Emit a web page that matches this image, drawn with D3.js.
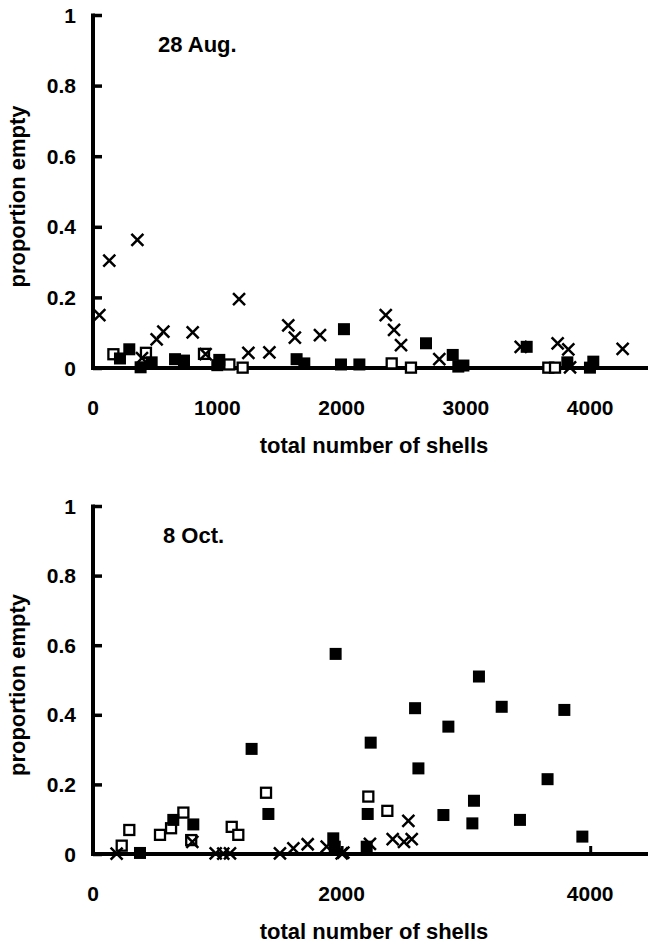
<!DOCTYPE html>
<html lang="en">
<head>
    <meta charset="UTF-8">
    <title>proportion empty</title>
    <script src="https://d3js.org/d3.v7.min.js"></script>
    <style>
        body { margin: 0; background: #fff; }
        svg text {
            font-family: "Liberation Sans", Arial, sans-serif;
            font-weight: bold;
            fill: #000;
        }
        .axis line, .axis path { stroke: #000; }
    </style>
</head>
<body>
<div id="chart"></div>

<script type="text/javascript">
    // 28 Aug. panel: [total number of shells, proportion empty]
    var augFilled = [[217, 0.027], [292, 0.053], [383, 0.002], [472, 0.016], [660, 0.025], [732, 0.021],
        [1000, 0.008], [1016, 0.023], [1638, 0.025], [1700, 0.013], [1995, 0.010], [2019, 0.110],
        [2143, 0.010], [2679, 0.070], [2894, 0.037], [2939, 0.004], [2980, 0.007], [3489, 0.060],
        [3816, 0.016], [3998, 0.001], [4025, 0.018]];
    var augOpen = [[164, 0.039], [426, 0.043], [893, 0.040], [1097, 0.010], [1204, 0.001], [2403, 0.013],
        [2558, 0.001], [3663, 0.001], [3717, 0.001]];
    var augCross = [[51, 0.150], [131, 0.304], [357, 0.363], [394, 0.028], [512, 0.081], [566, 0.103],
        [802, 0.101], [906, 0.039], [1175, 0.195], [1250, 0.043], [1419, 0.044], [1571, 0.121],
        [1624, 0.086], [1826, 0.093], [2355, 0.150], [2422, 0.108], [2478, 0.065], [2786, 0.025],
        [3441, 0.060], [3738, 0.070], [3824, 0.053], [3838, 0.002], [4261, 0.054]];

    // 8 Oct. panel
    var octFilled = [[378, 0.003], [646, 0.098], [807, 0.085], [1276, 0.302], [1411, 0.115], [1933, 0.045],
        [1945, 0.021], [1952, 0.575], [2202, 0.021], [2210, 0.115], [2234, 0.320], [2591, 0.419],
        [2618, 0.246], [2819, 0.112], [2859, 0.366], [3052, 0.088], [3065, 0.153], [3105, 0.510],
        [3288, 0.423], [3435, 0.098], [3657, 0.215], [3792, 0.414], [3937, 0.050]];
    var octOpen = [[231, 0.024], [292, 0.069], [539, 0.055], [628, 0.074], [727, 0.119], [790, 0.040],
        [1116, 0.078], [1169, 0.055], [1392, 0.176], [2215, 0.165], [2368, 0.124]];
    var octCross = [[190, 0.001], [799, 0.035], [987, 0.002], [1048, 0.001], [1102, 0.002], [1504, 0.002],
        [1612, 0.016], [1727, 0.028], [1880, 0.021], [2001, 0.002], [2014, 0.004], [2228, 0.029],
        [2411, 0.043], [2502, 0.035], [2537, 0.095], [2564, 0.043]];

    var yTicks = [0, 0.2, 0.4, 0.6, 0.8, 1];
    var augXTicks = [0, 1000, 2000, 3000, 4000];
    var octXTicks = [0, 2000, 4000];

    var width = 648, height = 945;

    var svg = d3.select('div#chart').append('svg')
        .attr('width', width)
        .attr('height', height);

    var xScale = d3.scaleLinear()
        .domain([0, 4500])
        .range([93, 93 + 4500 * 0.1243]);

    function panel(title, top, bottom, xTicks, filled, open, cross, titleX) {
        var yScale = d3.scaleLinear().domain([0, 1]).range([bottom, top]);
        var g = svg.append('g');

        // y axis with ticks pointing inward
        var yAxis = d3.axisRight(yScale).tickValues(yTicks).tickSize(9).tickFormat('');
        g.append('g').attr('class', 'axis')
            .attr('transform', 'translate(' + xScale(0) + ',0)')
            .call(yAxis)
            .call(function (a) {
                a.select('.domain').remove();
                a.selectAll('line').attr('stroke-width', 3.5);
            });
        g.append('line')
            .attr('x1', xScale(0)).attr('x2', xScale(0))
            .attr('y1', yScale(1) - 1.5).attr('y2', yScale(0) + 2)
            .attr('stroke', '#000').attr('stroke-width', 4);

        g.selectAll('text.ylab').data(yTicks).enter().append('text')
            .attr('class', 'ylab')
            .attr('x', 76)
            .attr('y', function (d) { return yScale(d) + 7.5; })
            .attr('text-anchor', 'end')
            .attr('font-size', 21)
            .text(function (d) { return d3.format('~g')(d); });

        // x axis
        var xAxis = d3.axisTop(xScale).tickValues(xTicks).tickSize(8).tickFormat('');
        g.append('g').attr('class', 'axis')
            .attr('transform', 'translate(0,' + yScale(0) + ')')
            .call(xAxis)
            .call(function (a) {
                a.select('.domain').remove();
                a.selectAll('line').attr('stroke-width', 3);
            });
        g.append('line')
            .attr('x1', xScale(0) - 2).attr('x2', width)
            .attr('y1', yScale(0)).attr('y2', yScale(0))
            .attr('stroke', '#000').attr('stroke-width', 4);

        g.selectAll('text.xlab').data(xTicks).enter().append('text')
            .attr('class', 'xlab')
            .attr('x', function (d) { return xScale(d); })
            .attr('y', yScale(0) + 47)
            .attr('text-anchor', 'middle')
            .attr('font-size', 21)
            .text(function (d) { return d; });

        g.append('text')
            .attr('x', 374).attr('y', yScale(0) + 85)
            .attr('text-anchor', 'middle')
            .attr('font-size', 22)
            .text('total number of shells');

        g.append('text')
            .attr('transform', 'translate(25,' + ((top + bottom) / 2 + 5) + ') rotate(-90)')
            .attr('text-anchor', 'middle')
            .attr('font-size', 22)
            .text('proportion empty');

        g.append('text')
            .attr('x', titleX).attr('y', top + 37)
            .attr('font-size', 22)
            .text(title);

        // open squares
        g.selectAll('rect.open').data(open).enter().append('rect')
            .attr('class', 'open')
            .attr('x', function (d) { return xScale(d[0]) - 5; })
            .attr('y', function (d) { return yScale(d[1]) - 5; })
            .attr('width', 10).attr('height', 10)
            .attr('fill', '#fff').attr('stroke', '#000').attr('stroke-width', 2.3);

        // filled squares
        g.selectAll('rect.filled').data(filled).enter().append('rect')
            .attr('class', 'filled')
            .attr('x', function (d) { return xScale(d[0]) - 6; })
            .attr('y', function (d) { return yScale(d[1]) - 6; })
            .attr('width', 12).attr('height', 12)
            .attr('fill', '#000');

        // crosses
        g.selectAll('path.cross').data(cross).enter().append('path')
            .attr('class', 'cross')
            .attr('d', function (d) {
                var cx = xScale(d[0]), cy = yScale(d[1]), r = 6;
                return 'M' + (cx - r) + ',' + (cy - r) + 'L' + (cx + r) + ',' + (cy + r) +
                    'M' + (cx - r) + ',' + (cy + r) + 'L' + (cx + r) + ',' + (cy - r);
            })
            .attr('stroke', '#000').attr('stroke-width', 2.5).attr('fill', 'none');
    }

    panel('28 Aug.', 15, 368, augXTicks, augFilled, augOpen, augCross, 158);
    panel('8 Oct.', 506, 854, octXTicks, octFilled, octOpen, octCross, 163);
</script>
</body>
</html>
